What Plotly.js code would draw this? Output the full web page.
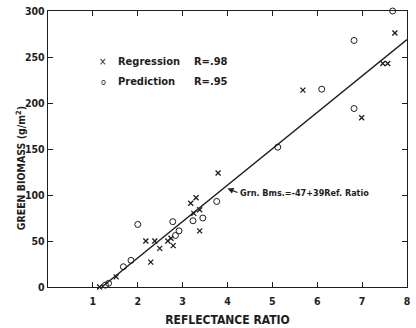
<!DOCTYPE html>
<html>
<head>
<meta charset="utf-8">
<script src="https://cdn.plot.ly/plotly-3.0.1.min.js"></script>
<style>html,body{margin:0;padding:0;background:#fff;}#chart{width:416px;height:328px;}</style>
</head>
<body>
<div id="chart"></div>
<script>
// Regression data (x marks)
const regX = [1.15, 1.52, 2.18, 2.29, 2.38, 2.49, 2.67, 2.74, 2.79, 3.18, 3.25, 3.30, 3.38, 3.38, 3.79, 5.68, 6.99, 7.46, 7.57, 7.73];
const regY = [0, 11, 50, 27, 50, 42, 50, 53, 45, 91, 80, 97, 84, 61, 124, 214, 184, 243, 243, 276];
// Prediction data (open circles)
const predX = [1.28, 1.35, 1.68, 1.85, 2.0, 2.78, 2.84, 2.92, 3.23, 3.45, 3.76, 5.12, 6.10, 6.82, 6.82, 7.68];
const predY = [2, 4, 22, 29, 68, 71, 56, 61, 72, 75, 93, 152, 215, 194, 268, 300];
// Regression line end points
const lineX = [1.2, 8];
const lineY = [0, 269];
const xTicks = [1, 2, 3, 4, 5, 6, 7, 8];
const yTicks = [0, 50, 100, 150, 200, 250, 300];

const FONT = "'DejaVu Sans Condensed', 'Liberation Sans Narrow', 'DejaVu Sans', sans-serif";
const INK = '#1e1e1e';

const traces = [
  {x: lineX, y: lineY, mode: 'lines', line: {color: INK, width: 1.4}, hoverinfo: 'skip', cliponaxis: false},
  {x: regX, y: regY, mode: 'markers', marker: {symbol: 'x-thin-open', size: 5, color: INK, line: {color: INK, width: 1.3}}, cliponaxis: false},
  {x: predX, y: predY, mode: 'markers', marker: {symbol: 'circle-open', size: 6, color: INK, line: {color: INK, width: 1}}, cliponaxis: false}
];

const tf = {family: FONT, size: 10.5, color: INK, weight: 'bold'};
const layout = {
  width: 416, height: 328,
  margin: {l: 48, r: 9, t: 11, b: 41},
  paper_bgcolor: '#ffffff', plot_bgcolor: '#ffffff',
  showlegend: false,
  font: {family: FONT, color: INK},
  xaxis: {
    range: [0, 8], tickvals: xTicks, ticktext: xTicks.map(String),
    showgrid: false, zeroline: false, showline: true, linecolor: INK, linewidth: 1.3,
    mirror: 'ticks', ticks: 'inside', ticklen: 5, tickcolor: INK, tickwidth: 1,
    tickfont: tf, ticklabelstandoff: 4,
    title: {text: 'REFLECTANCE RATIO', font: {family: FONT, size: 12, color: INK, weight: 'bold'}, standoff: 9}
  },
  yaxis: {
    range: [0, 300], tickvals: yTicks, ticktext: yTicks.map(String),
    showgrid: false, zeroline: false, showline: true, linecolor: INK, linewidth: 1.3,
    mirror: 'ticks', ticks: 'inside', ticklen: 5, tickcolor: INK, tickwidth: 1,
    tickfont: tf
  },
  annotations: [
    {xref: 'paper', yref: 'paper', x: -0.078, y: 0.43, text: 'GREEN BIOMASS (g/m<sup>2</sup>)', textangle: -90, showarrow: false,
     font: {family: FONT, size: 10.5, color: INK, weight: 'bold'}, xanchor: 'center', yanchor: 'middle'},
    {xref: 'x', yref: 'y', x: 1.23, y: 245, text: '×', showarrow: false, font: {family: FONT, size: 10, color: INK}},
    {xref: 'x', yref: 'y', x: 1.23, y: 223, text: 'o', showarrow: false, font: {family: FONT, size: 9, color: INK}},
    {xref: 'x', yref: 'y', x: 1.52, y: 245, text: 'Regression', xanchor: 'left', showarrow: false, font: {family: FONT, size: 11, color: INK, weight: 'bold'}},
    {xref: 'x', yref: 'y', x: 1.52, y: 223, text: 'Prediction', xanchor: 'left', showarrow: false, font: {family: FONT, size: 11, color: INK, weight: 'bold'}},
    {xref: 'x', yref: 'y', x: 3.2, y: 245, text: 'R=.98', xanchor: 'left', showarrow: false, font: {family: FONT, size: 11, color: INK, weight: 'bold'}},
    {xref: 'x', yref: 'y', x: 3.2, y: 223, text: 'R=.95', xanchor: 'left', showarrow: false, font: {family: FONT, size: 11, color: INK, weight: 'bold'}},
    {xref: 'x', yref: 'y', x: 4.0, y: 107, text: 'Grn. Bms.=-47+39Ref. Ratio', xanchor: 'left', yanchor: 'middle',
     showarrow: true, arrowhead: 2, arrowsize: 1, arrowwidth: 1.2, arrowcolor: INK, ax: 10, ay: 4,
     font: {family: FONT, size: 9, color: INK, weight: 'bold'}}
  ]
};

Plotly.newPlot('chart', traces, layout, {staticPlot: true, displayModeBar: false});
</script>
</body>
</html>
